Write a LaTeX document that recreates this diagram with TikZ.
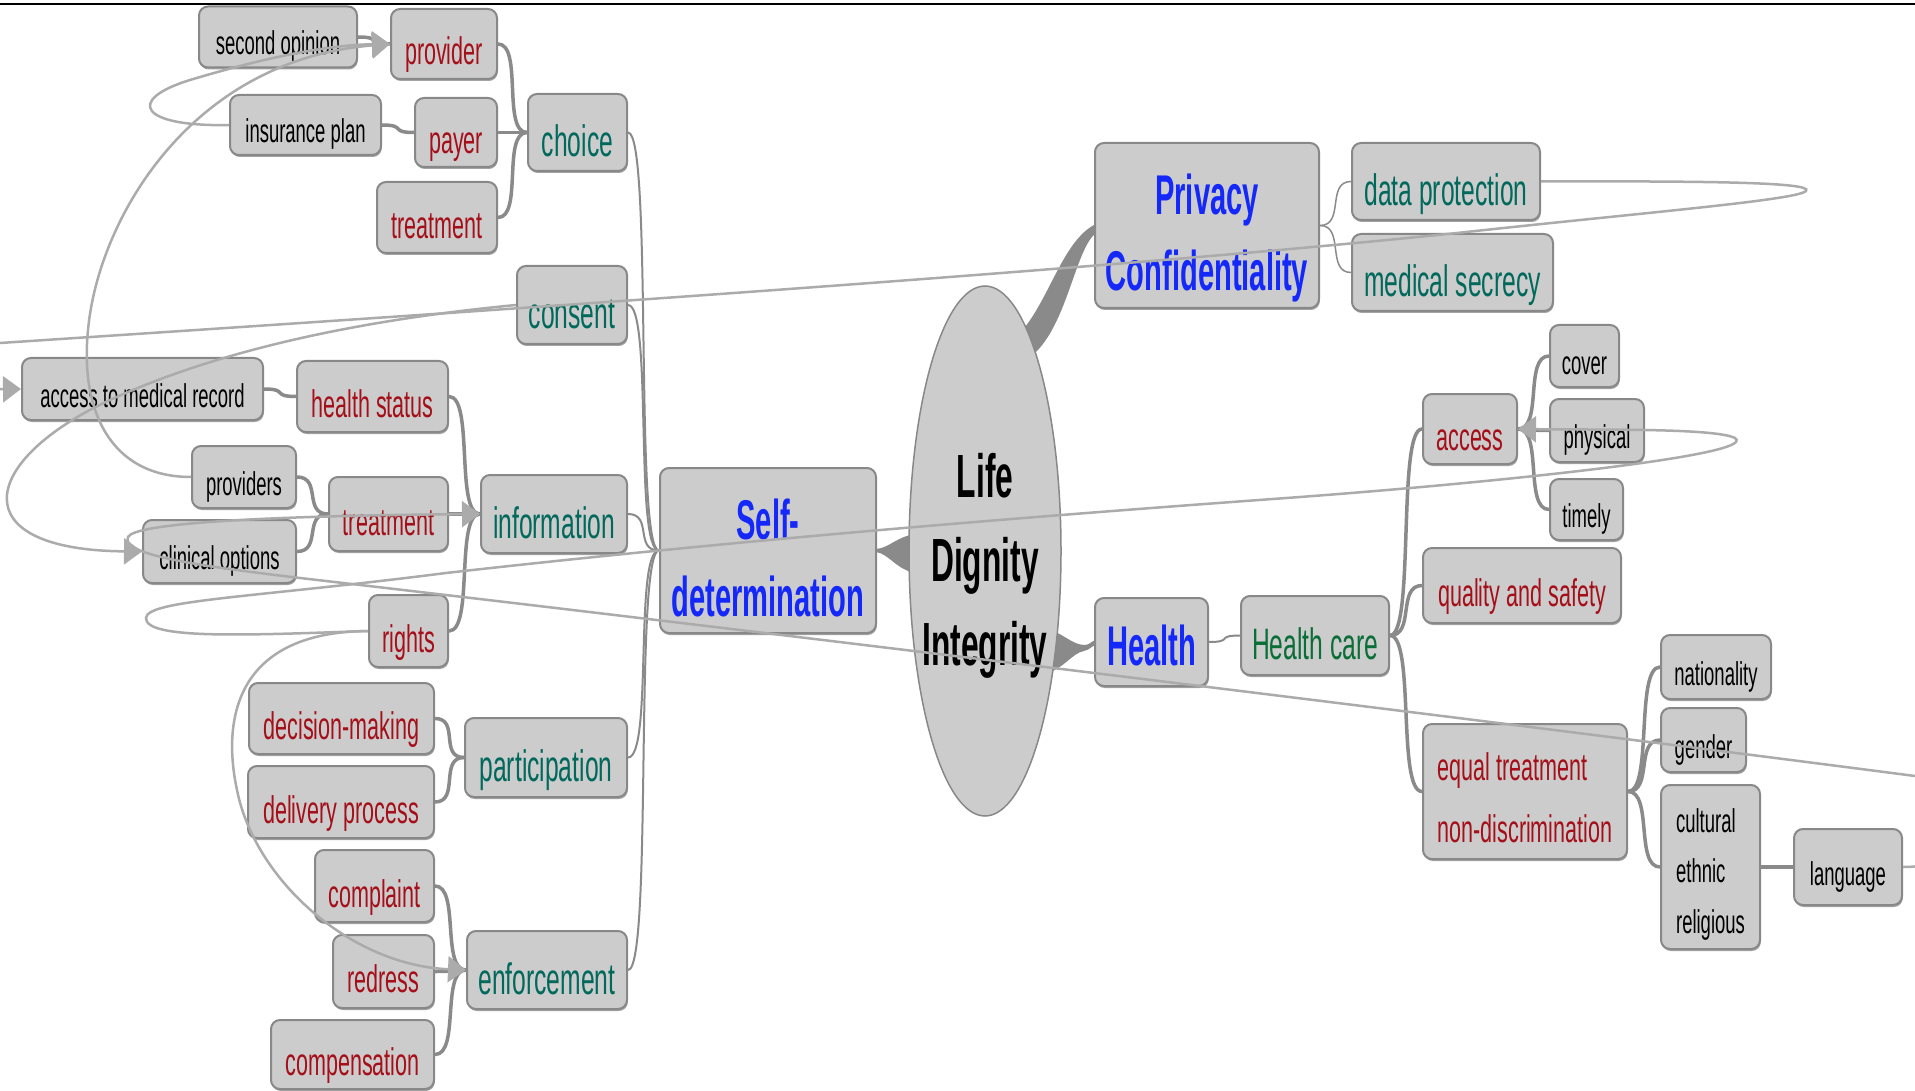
\documentclass[tikz,border=0pt]{standalone}
\usepackage{fontspec}
\setmainfont{Liberation Sans}
\newfontfamily\nf[FakeStretch=0.56]{Liberation Sans}
\newfontfamily\nfb[FakeStretch=0.52]{Liberation Sans}
\usetikzlibrary{arrows.meta,shapes.geometric,shadows}
\definecolor{boxfill}{HTML}{CCCCCC}
\definecolor{boxline}{HTML}{888888}
\definecolor{edgecol}{HTML}{8A8A8A}
\definecolor{linkcol}{HTML}{ABABAB}
\definecolor{tred}{RGB}{165,15,25}
\definecolor{tteal}{RGB}{0,105,92}
\definecolor{tgreen}{RGB}{10,110,55}
\definecolor{tblue}{RGB}{20,40,250}
\begin{document}
\begin{tikzpicture}[x=1pt,y=-1pt,
  box/.style={draw=boxline,line width=2pt,fill=boxfill,rounded corners=9pt,inner sep=0pt,
     drop shadow={shadow xshift=0.8pt,shadow yshift=-2pt,fill=black!60,opacity=0.6}},
  blk/.style={box,text=black,font=\nf\fontsize{33}{40}\selectfont,text height=36pt,text depth=0pt},
  rd/.style={box,text=tred,font=\nf\fontsize{38.5}{44}\selectfont,text height=42pt,text depth=0pt},
  tl/.style={box,text=tteal,font=\nf\fontsize{44}{50}\selectfont,text height=48pt,text depth=0pt},
  gr/.style={tl,text=tgreen},
  bl/.style={box,text=tblue,font=\nfb\bfseries\fontsize{56}{77}\selectfont},
  blkm/.style={box,text=black,font=\nf\fontsize{33}{50.5}\selectfont,align=left},
  rdm/.style={box,text=tred,font=\nf\fontsize{38.5}{62}\selectfont,align=left},
  te/.style={draw=edgecol,line width=3.5pt,line cap=round,
     to path={.. controls +(25,0) and +(-25,0) .. (\tikztotarget)}},
  tm/.style={te,line width=2pt},
  tt/.style={te,line width=1.5pt},
  xl/.style={draw=linkcol,line width=2.5pt,-{Triangle[length=18pt,width=26pt]}}
]
\useasboundingbox (0,0) rectangle (1915,1091);
\clip (0,0) rectangle (1915,1091);
\fill[white] (0,0) rectangle (1915,1091);
\draw[black,line width=2pt] (0,4) -- (1915,4);

% central wedges
\fill[edgecol] (876,549) .. controls (890,548) and (896,536) .. (920,533) -- (920,574) .. controls (896,571) and (890,554) .. (876,552) -- cycle;
\fill[edgecol] (1018,335) .. controls (1048,305) and (1062,240) .. (1096,224) -- (1096,233) .. controls (1076,248) and (1068,320) .. (1036,352) -- cycle;
\fill[edgecol] (1045,628) .. controls (1065,634) and (1072,645) .. (1085,645) .. controls (1090,645) and (1092,640) .. (1097,640) -- (1097,645) .. controls (1092,645) and (1090,650) .. (1084,651) .. controls (1072,653) and (1065,668) .. (1045,674) -- cycle;

% nodes
\node[blk,minimum width=158pt,minimum height=61pt] (so) at (278,37) {second opinion};
\node[rd,minimum width=106pt,minimum height=70pt] (prov) at (444,44) {provider};
\node[blk,minimum width=151pt,minimum height=60pt] (insp) at (305.5,125) {insurance plan};
\node[rd,minimum width=82pt,minimum height=69pt] (payer) at (456,132.5) {payer};
\node[rd,minimum width=120pt,minimum height=71pt] (trc) at (437,217.5) {treatment};
\node[tl,minimum width=99pt,minimum height=77pt] (choice) at (577.5,132.5) {choice};
\node[tl,minimum width=110pt,minimum height=78pt] (consent) at (572,305) {consent};
\node[blk,minimum width=241pt,minimum height=62pt] (amr) at (142.5,389) {access to medical record};
\node[rd,minimum width=151pt,minimum height=71pt] (hs) at (372.5,396.5) {health status};
\node[blk,minimum width=104pt,minimum height=62pt] (provs) at (244,477) {providers};
\node[rd,minimum width=119pt,minimum height=74pt] (tri) at (388.5,514) {treatment};
\node[blk,minimum width=153pt,minimum height=63pt] (clo) at (219.5,551.5) {clinical options};
\node[tl,minimum width=146pt,minimum height=78pt] (info) at (554,514) {information};
\node[rd,minimum width=79pt,minimum height=72pt] (rights) at (408.5,631) {rights};
\node[rd,minimum width=185pt,minimum height=71pt] (dm) at (341.5,718.5) {decision-making};
\node[rd,minimum width=186pt,minimum height=72pt] (dp) at (341,802) {delivery process};
\node[tl,minimum width=162pt,minimum height=79pt] (part) at (546,757.5) {participation};
\node[rd,minimum width=119pt,minimum height=72pt] (compl) at (374.5,886) {complaint};
\node[rd,minimum width=101pt,minimum height=73pt] (redr) at (383.5,971.5) {redress};
\node[rd,minimum width=163pt,minimum height=69pt] (comp) at (352.5,1054.5) {compensation};
\node[tl,minimum width=160pt,minimum height=78pt] (enf) at (547,970) {enforcement};
\node[bl,align=center,minimum width=216pt,minimum height=165pt] (sd) at (768,550.5) {\rule{0pt}{70pt}Self-\\determination\rule[-15pt]{0pt}{15pt}};
\node[ellipse,draw=boxline,line width=1.5pt,fill=boxfill,minimum width=152pt,minimum height=530pt,inner sep=0pt] (life) at (985,551) {};
\node[font=\nfb\bfseries\fontsize{61}{84}\selectfont,align=center,inner sep=0pt] (lifet) at (985,579) {\rule{0pt}{40pt}Life\\Dignity\\Integrity\rule[-40pt]{0pt}{40pt}};
\node[bl,align=center,minimum width=224pt,minimum height=165pt] (priv) at (1207,225.5) {\rule{0pt}{70pt}Privacy\\Confidentiality\rule[-16pt]{0pt}{16pt}};
\node[tl,minimum width=188pt,minimum height=77pt] (dprot) at (1446,181.5) {data protection};
\node[tl,minimum width=201pt,minimum height=77pt] (msec) at (1452.5,272.5) {medical secrecy};
\node[rd,minimum width=94pt,minimum height=70pt] (acc) at (1470,429) {access};
\node[blk,minimum width=69pt,minimum height=62pt] (cover) at (1584.5,356) {cover};
\node[blk,minimum width=94pt,minimum height=63pt] (phys) at (1597,430.5) {physical};
\node[blk,minimum width=73pt,minimum height=61pt] (timely) at (1586.5,509.5) {timely};
\node[rd,minimum width=198pt,minimum height=75pt] (qs) at (1522,585.5) {quality and safety};
\node[bl,minimum width=113pt,minimum height=88pt,text height=46pt,text depth=0pt] (health) at (1151.5,642) {Health};
\node[gr,minimum width=148pt,minimum height=79pt] (hc) at (1315,635.5) {Health care};
\node[blk,minimum width=110pt,minimum height=64pt] (nat) at (1716,667) {nationality};
\node[blk,minimum width=85pt,minimum height=64pt] (gender) at (1703.5,740) {gender};
\node[rdm,minimum width=204pt,minimum height=135pt] (eq) at (1525,791.5) {\rule{0pt}{50pt}equal treatment\\non-discrimination\rule[-11pt]{0pt}{11pt}};
\node[blkm,minimum width=99pt,minimum height=164pt] (cult) at (1710.5,867) {\rule{0pt}{45pt}cultural\\ethnic\\religious\rule[-14pt]{0pt}{14pt}};
\node[blk,minimum width=108pt,minimum height=76pt] (lang) at (1848,867) {language};

% tree edges
\draw[te] (so.east) to (prov.west);
\draw[te] (insp.east) to (payer.west);
\foreach \c in {prov,payer,trc} \draw[te] (\c.east) to (choice.west);
\draw[te] (amr.east) to (hs.west);
\foreach \c in {hs,tri,rights} \draw[te] (\c.east) to (info.west);
\foreach \c in {provs,clo} \draw[te] (\c.east) to (tri.west);
\foreach \c in {dm,dp} \draw[te] (\c.east) to (part.west);
\foreach \c in {compl,redr,comp} \draw[te] (\c.east) to (enf.west);
\foreach \c in {choice,consent,info,part,enf} \draw[tm] (\c.east) to (sd.west);
\foreach \c in {dprot,msec} \draw[tt] (priv.east) to (\c.west);
\draw[tm] (health.east) to (hc.west);
\foreach \c in {acc,qs,eq} \draw[te] (hc.east) to (\c.west);
\foreach \c in {cover,phys,timely} \draw[te] (acc.east) to (\c.west);
\foreach \c in {nat,gender,cult} \draw[te] (eq.east) to (\c.west);
\draw[te] (cult.east) to (lang.west);

% cross links
\draw[xl] (insp.west) .. controls (140,127) and (125,100) .. (190,80) .. controls (250,62) and (320,45) .. (prov.west);
\draw[xl] (provs.west) .. controls (110,477) and (80,410) .. (88,330) .. controls (98,220) and (190,60) .. (prov.west);
\draw[xl] (consent.west) .. controls (380,318) and (230,345) .. (110,400) .. controls (-20,460) and (-40,550) .. (clo.west);
\draw[xl] (dprot.east) .. controls (1700,181) and (1815,182) .. (1806,191) .. controls (1797,200) and (1650,212) .. (1457,233) .. controls (1100,270) and (500,310) .. (0,343) .. controls (-50,347) and (-50,390) .. (amr.west);
\draw[xl] (rights.west) .. controls (250,635) and (145,640) .. (146,618) .. controls (147,600) and (250,598) .. (446,573) .. controls (800,533) and (1150,508) .. (1300,497) .. controls (1500,482) and (1760,455) .. (1735,438) .. controls (1715,428) and (1600,430) .. (acc.east);
\draw[xl] (lang.east) .. controls (1990,867) and (1990,785) .. (1915,776) .. controls (1500,722) and (750,630) .. (300,578) .. controls (200,566) and (120,555) .. (128,537) .. controls (134,524) and (250,516) .. (info.west);
\draw[xl] (rights.west) .. controls (235,632) and (222,720) .. (237,790) .. controls (255,880) and (350,965) .. (enf.west);
\end{tikzpicture}
\end{document}
